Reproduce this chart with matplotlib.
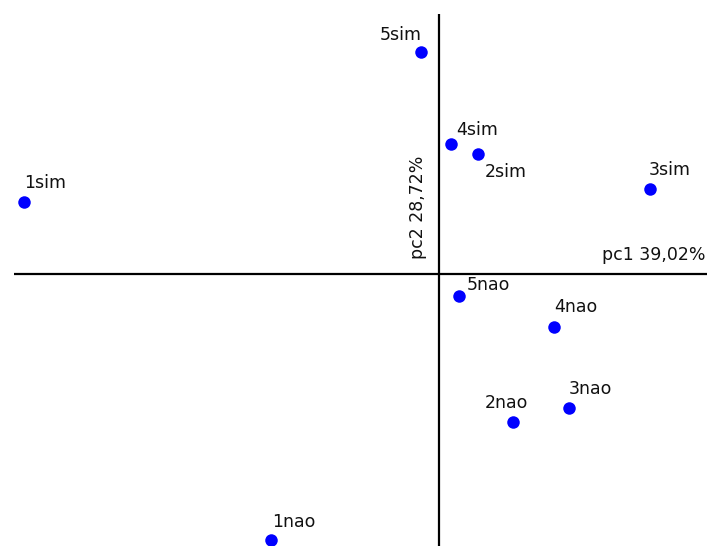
import matplotlib
matplotlib.use("Agg")
import matplotlib.pyplot as plt

# PCA scores (pc1, pc2)
labels = ["1sim", "2sim", "3sim", "4sim", "5sim",
          "1nao", "2nao", "3nao", "4nao", "5nao"]
pc1 = [-4.15, 0.39, 2.11, 0.12, -0.18, -1.68, 0.74, 1.30, 1.15, 0.20]
pc2 = [0.72, 1.20, 0.85, 1.30, 2.22, -2.66, -1.48, -1.34, -0.53, -0.22]
xlabel = "pc1 39,02%"
ylabel = "pc2 28,72%"

# label placement (pixel offsets from each point, alignment)
offsets = {
    "1sim": (0, 14, "left"), "2sim": (7, -23, "left"), "3sim": (-1, 14, "left"),
    "4sim": (5, 9, "left"), "5sim": (1, 12, "right"),
    "1nao": (1, 13, "left"), "2nao": (-28, 14, "left"), "3nao": (0, 14, "left"),
    "4nao": (0, 15, "left"), "5nao": (8, 6, "left"),
}

fig = plt.figure(figsize=(7.07, 5.46), dpi=100)
ax = fig.add_axes([0, 0, 1, 1])
ax.set_xlim(-4.39, 2.68)
ax.set_ylim(-2.72, 2.74)
ax.axis("off")

ax.hlines(0, -4.25, 2.68, color="black", lw=1.6)
ax.vlines(0, -2.72, 2.60, color="black", lw=1.6)

ax.plot(pc1, pc2, "o", color="#0000ff", ms=9, mec="none")

for lab, x, y in zip(labels, pc1, pc2):
    dx, dy, ha = offsets[lab]
    ax.annotate(lab, (x, y), xytext=(dx, dy), textcoords="offset pixels",
                ha=ha, va="baseline", fontsize=12.5, color="#111111")

ax.annotate(xlabel, (2.68, 0), xytext=(-2, 14), textcoords="offset pixels",
            ha="right", va="baseline", fontsize=12.5, color="#111111")
ax.annotate(ylabel, (0, 0), xytext=(-12, 15), textcoords="offset pixels",
            ha="right", va="bottom", rotation=90, fontsize=12.5, color="#111111")

fig.savefig("out.png", dpi=100)
